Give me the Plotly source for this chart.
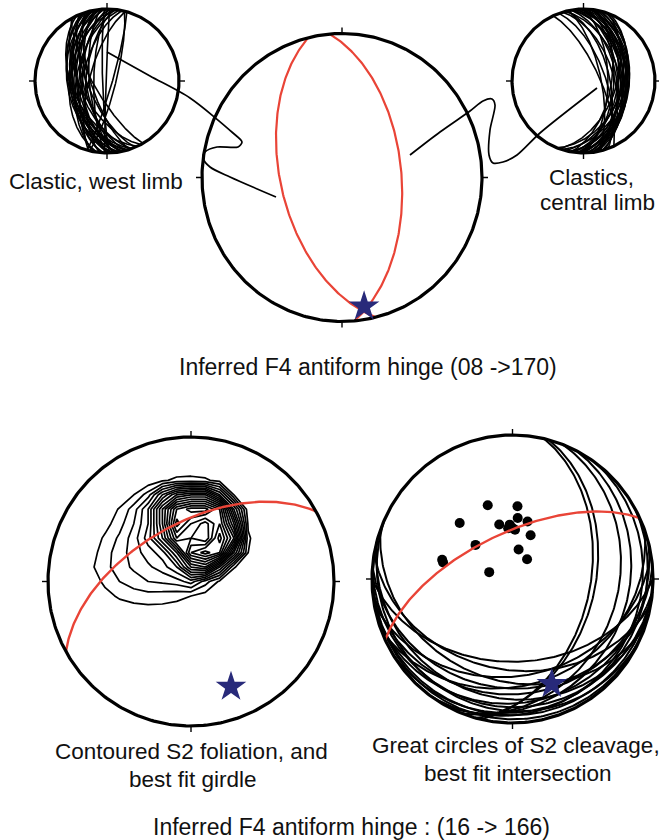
import numpy as np
import plotly.graph_objects as go

W, H = 659, 840

# ---------------- data ----------------
# Panel "Clastic, west limb": bedding planes, strike (right-hand rule) / dip
WEST_LIMB_STRIKE = [152, 155, 157, 160, 160, 162, 163, 165, 165, 167, 168, 170, 170, 172, 173, 175, 175,
                    177, 178, 180, 181, 183, 185, 186, 188, 190, 192, 195, 182, 178, 14, 16, 150]
WEST_LIMB_DIP = [60, 50, 68, 48, 58, 72, 46, 52, 63, 49, 56, 66, 44, 50, 60, 47, 70,
                 55, 50, 62, 75, 52, 58, 66, 47, 55, 62, 70, 89, 85, 80, 84, 75]
# Panel "Clastics, central limb"
CENTRAL_LIMB_STRIKE = [340, 343, 345, 347, 350, 350, 352, 354, 355, 357, 358, 0, 2, 3, 5, 6, 8, 10,
                       12, 15, 18, 20, 22, 335, 348, 0, 5, 10]
CENTRAL_LIMB_DIP = [65, 55, 48, 60, 42, 52, 45, 39, 50, 43, 38, 47, 40, 55, 38, 45, 50, 42,
                    37, 46, 40, 52, 44, 72, 70, 62, 36, 58]
# Central net: best-fit limb girdles (red) and inferred hinge (trend, plunge)
LIMB_GIRDLE_STRIKE = [166, 355]
LIMB_GIRDLE_DIP = [54, 55]
HINGE_TOP = [170, 10]

# Contoured S2 foliation: density (contour level) table on the projection plane
S2_GRID_X = [-0.8, -0.7, -0.6, -0.5, -0.4, -0.3, -0.2, -0.1, 0.0, 0.1, 0.2, 0.3, 0.4, 0.5]
S2_GRID_Y = [-0.3, -0.2, -0.1, 0.0, 0.1, 0.2, 0.3, 0.4, 0.5, 0.6, 0.7, 0.8]
S2_DENSITY = [
    [0, 0, 0, 0, 0, 0, 0, 0, 0, 0, 0, 0, 0, 0],
    [0, 0, 0, 0.3, 0.5, 0.6, 0.6, 0.5, 0.3, 0, 0, 0, 0, 0],
    [0, 0, 0.6, 1.2, 1.5, 1.6, 1.5, 1.3, 1.0, 0.5, 0, 0, 0, 0],
    [0, 0.3, 1.3, 2.0, 2.5, 3.0, 3.2, 3.5, 4.5, 2.5, 0.8, 0, 0, 0],
    [0, 0.8, 1.7, 2.5, 3.2, 3.8, 4.5, 6.0, 10, 11, 6, 1.1, 0.3, 0],
    [0, 0.5, 1.6, 2.5, 3.5, 4.5, 5.5, 9, 15, 16.5, 15, 7, 1.0, 0],
    [0, 0.3, 1.2, 2.2, 3.5, 5.5, 9, 14, 13, 12, 16.5, 12, 1.2, 0],
    [0, 0, 0.6, 1.6, 3.0, 5.0, 10, 16.5, 14, 12.5, 15, 9, 0.8, 0],
    [0, 0, 0.3, 1.1, 2.5, 5, 10, 15, 16.5, 16.5, 14, 6, 0.3, 0],
    [0, 0, 0, 0.2, 1.0, 2.5, 6, 9, 10, 10, 6, 1.0, 0, 0],
    [0, 0, 0, 0, 0, 0.2, 0.8, 1.3, 1.4, 1.2, 0.6, 0.1, 0, 0],
    [0, 0, 0, 0, 0, 0, 0, 0, 0, 0, 0, 0, 0, 0],
]
S2_LEVELS = [1, 16, 1]                 # first, last, step
GIRDLE_S2_FOLIATION = [241, 57]      # strike, dip

# Great circles of S2 cleavage
CLEAVAGE_STRIKE = [90, 100, 80, 110, 70, 95, 85, 105, 75, 95, 115, 60, 90, 105, 13, 15, 21, 27, 36]
CLEAVAGE_DIP = [42, 37, 33, 30, 27, 25, 21, 18, 15, 12, 10, 9, 6, 3, 44, 41, 26, 19, 10]
CLEAVAGE_POLE_TREND = [341, 4, 316, 346, 357, 5, 15, 0, 23, 312, 12, 37, 285, 283, 286, 355, 3]
CLEAVAGE_POLE_PLUNGE = [45, 48, 45, 58, 59, 55, 56, 61, 63, 61, 73, 76, 47, 48, 76, 61, 62]
GIRDLE_S2_CLEAVAGE = [245, 64]
HINGE_BOTTOM = [159, 23]

# ---------------- layout constants ----------------
PANELS = {  # centre x, centre y, radius x, radius y (pixels)
    'west': (107, 81, 72, 72),
    'main': (342, 177.5, 140, 144),
    'central': (583.5, 81, 71.5, 72),
    'foliation': (191, 581.5, 143, 144.5),
    'cleavage': (512.5, 579, 140.5, 144),
}
RED = 'rgb(233,68,55)'
NAVY = 'rgb(40,42,122)'
FONT = 'Liberation Sans, Arial, Helvetica, sans-serif'


# ---------------- equal-area lower hemisphere projection ----------------
def line_xy(trend, plunge):
    t = np.radians(np.asarray(trend, float))
    p = np.radians(np.asarray(plunge, float))
    e, n, d = np.cos(p) * np.sin(t), np.cos(p) * np.cos(t), np.sin(p)
    f = 1.0 / np.sqrt(1.0 + d)
    return e * f, n * f


def plane_xy(strike, dip, n=181):
    s, d = np.radians(strike), np.radians(dip)
    dd = s + np.pi / 2
    a = np.linspace(0, np.pi, n)
    sv = np.array([np.sin(s), np.cos(s), 0.0])
    dv = np.array([np.sin(dd) * np.cos(d), np.cos(dd) * np.cos(d), np.sin(d)])
    v = np.outer(np.cos(a), sv) + np.outer(np.sin(a), dv)
    f = 1.0 / np.sqrt(1.0 + np.clip(v[:, 2], 0, None))
    return v[:, 0] * f, v[:, 1] * f


def planes_trace(strikes, dips, ax, color, width):
    xs, ys = [], []
    for s, d in zip(strikes, dips):
        x, y = plane_xy(s, d)
        xs += list(x) + [None]
        ys += list(y) + [None]
    return go.Scatter(x=xs, y=ys, mode='lines', line=dict(color=color, width=width),
                      xaxis=ax[0], yaxis=ax[1], hoverinfo='skip')


fig = go.Figure()
layout_axes = {}


def setup_axis(i, cx, cy, rx, ry, pad=12):
    left, right = max(0, cx - rx - pad), min(W, cx + rx + pad)
    top, bottom = max(0, cy - ry - pad), min(H, cy + ry + pad)
    key = str(i)
    layout_axes['xaxis' + key] = dict(domain=[left / W, right / W], range=[(left - cx) / rx, (right - cx) / rx],
                                      visible=False, fixedrange=True)
    layout_axes['yaxis' + key] = dict(domain=[1 - bottom / H, 1 - top / H], range=[(cy - bottom) / ry, (cy - top) / ry],
                                      visible=False, fixedrange=True)
    return ('x' + key, 'y' + key)


# page axis in pixels for the leader lines and labels
layout_axes['xaxis'] = dict(domain=[0, 1], range=[0, W], visible=False, fixedrange=True)
layout_axes['yaxis'] = dict(domain=[0, 1], range=[H, 0], visible=False, fixedrange=True)

axes = {}
for i, name in enumerate(PANELS, start=2):
    axes[name] = setup_axis(i, *PANELS[name])


def add_net(name, prim_width):
    cx, cy, rx, ry = PANELS[name]
    ax = axes[name]
    th = np.linspace(0, 2 * np.pi, 361)
    fig.add_trace(go.Scatter(x=np.sin(th), y=np.cos(th), mode='lines', line=dict(color='black', width=prim_width),
                             xaxis=ax[0], yaxis=ax[1], hoverinfo='skip'))
    tl = 6.0
    tx = [0, 0, None, 0, 0, None, 1, 1 + tl / rx, None, -1, -1 - tl / rx]
    ty = [1, 1 + tl / ry, None, -1, -1 - tl / ry, None, 0, 0, None, 0, 0]
    fig.add_trace(go.Scatter(x=tx, y=ty, mode='lines', line=dict(color='black', width=1.4),
                             xaxis=ax[0], yaxis=ax[1], hoverinfo='skip'))


def add_star(name, hinge):
    ax = axes[name]
    x, y = line_xy([hinge[0]], [hinge[1]])
    fig.add_trace(go.Scatter(x=x, y=y, mode='markers', marker=dict(symbol='star', size=23, color=NAVY),
                             xaxis=ax[0], yaxis=ax[1], hoverinfo='skip'))


# --- west limb net
fig.add_trace(planes_trace(WEST_LIMB_STRIKE, WEST_LIMB_DIP, axes['west'], 'black', 1.6))
add_net('west', 3.2)
# --- central limb net
fig.add_trace(planes_trace(CENTRAL_LIMB_STRIKE, CENTRAL_LIMB_DIP, axes['central'], 'black', 1.6))
add_net('central', 3.2)
# --- main net
fig.add_trace(planes_trace(LIMB_GIRDLE_STRIKE, LIMB_GIRDLE_DIP, axes['main'], RED, 2.2))
add_net('main', 3.2)
add_star('main', HINGE_TOP)

# --- contoured S2 foliation
ax = axes['foliation']
fig.add_trace(go.Contour(x=S2_GRID_X, y=S2_GRID_Y, z=S2_DENSITY, xaxis=ax[0], yaxis=ax[1], showscale=False,
                         contours=dict(coloring='none', start=S2_LEVELS[0], end=S2_LEVELS[1], size=S2_LEVELS[2]),
                         line=dict(color='black', width=1.7, smoothing=0), hoverinfo='skip'))
fig.add_trace(planes_trace([GIRDLE_S2_FOLIATION[0]], [GIRDLE_S2_FOLIATION[1]], ax, RED, 2.4))
add_net('foliation', 3.2)
add_star('foliation', HINGE_BOTTOM)

# --- cleavage great circles
ax = axes['cleavage']
fig.add_trace(planes_trace(CLEAVAGE_STRIKE, CLEAVAGE_DIP, ax, 'black', 2))
qx, qy = line_xy(CLEAVAGE_POLE_TREND, CLEAVAGE_POLE_PLUNGE)
fig.add_trace(go.Scatter(x=qx, y=qy, mode='markers', marker=dict(size=10, color='black'),
                         xaxis=ax[0], yaxis=ax[1], hoverinfo='skip'))
fig.add_trace(planes_trace([GIRDLE_S2_CLEAVAGE[0]], [GIRDLE_S2_CLEAVAGE[1]], ax, RED, 2.4))
add_net('cleavage', 3.2)
add_star('cleavage', HINGE_BOTTOM)

# --- leader lines (page pixels)
LEADER_WEST = ([107, 150, 190, 233, 242, 238, 217, 205, 203, 210, 230, 276],
               [52, 76, 98, 133, 142, 147, 147, 152, 158, 167, 177, 197])
LEADER_CENTRAL = ([597, 540, 517, 503, 493, 489, 490, 495, 492, 483, 470, 440, 410],
                  [88, 133, 155, 162, 163, 155, 130, 105, 99, 101, 111, 132, 155])
for lx, ly in (LEADER_WEST, LEADER_CENTRAL):
    fig.add_trace(go.Scatter(x=lx, y=ly, mode='lines', line=dict(color='black', width=1.7, shape='spline',
                                                                 smoothing=0.8),
                             xaxis='x', yaxis='y', hoverinfo='skip'))

# --- labels
LABELS = [
    ("Clastic, west limb", 96, 181, 22.5),
    ("Clastics,", 591, 177, 22.5),
    ("central limb", 597, 202, 22.5),
    ("Inferred F4 antiform hinge (08 ->170)", 368, 367, 23),
    ("Contoured S2 foliation, and", 191, 751, 22.5),
    ("best fit girdle", 193, 779, 22.5),
    ("Great circles of S2 cleavage,", 516, 745, 22.5),
    ("best fit intersection", 518, 773, 22.5),
    ("Inferred F4 antiform hinge : (16 -> 166)", 351, 827, 23),
]
annotations = [dict(text=t, x=x, y=y, xref='x', yref='y', showarrow=False, xanchor='center', yanchor='middle',
                    font=dict(family=FONT, size=s, color='#111111')) for t, x, y, s in LABELS]

fig.update_layout(width=W, height=H, margin=dict(l=0, r=0, t=0, b=0), paper_bgcolor='white',
                  plot_bgcolor='rgba(0,0,0,0)', showlegend=False, annotations=annotations, **layout_axes)
fig.write_html("out.html", config={'displayModeBar': False},
               post_script="document.body.style.margin='0px';")
